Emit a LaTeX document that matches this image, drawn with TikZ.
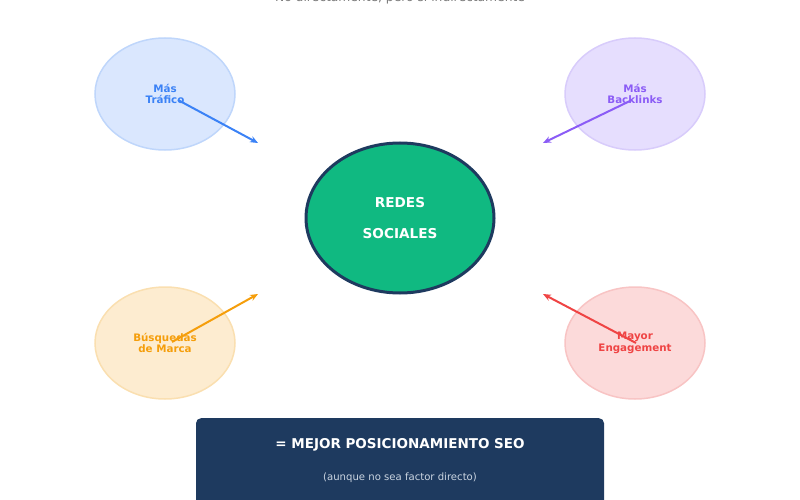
\documentclass[tikz,border=0pt]{standalone}
\usepackage{fontspec}
\setmainfont{DejaVu Sans}
\usetikzlibrary{arrows.meta,shapes.geometric}
\definecolor{navy}{HTML}{1E3A5F}
\definecolor{green}{HTML}{10B981}
\definecolor{bluefill}{HTML}{DAE7FE}
\definecolor{bluedraw}{HTML}{BFD6FB}
\definecolor{bluetext}{HTML}{3B82F6}
\definecolor{purfill}{HTML}{E6DEFE}
\definecolor{purdraw}{HTML}{D8CCFB}
\definecolor{purtext}{HTML}{8B5CF6}
\definecolor{orfill}{HTML}{FDECD0}
\definecolor{ordraw}{HTML}{FADFB0}
\definecolor{ortext}{HTML}{F59E0B}
\definecolor{redfill}{HTML}{FCDADA}
\definecolor{reddraw}{HTML}{F8C4C4}
\definecolor{redtext}{HTML}{EF4444}
\definecolor{subgray}{HTML}{7A7A7A}
\definecolor{lightgray}{HTML}{CBD5E1}
\tikzset{
  sat/.style={ellipse, minimum width=140pt, minimum height=112pt, line width=1.5pt, inner sep=0pt, align=center, font=\fontsize{10.3}{11.5}\selectfont\bfseries},
  arr/.style={line width=2pt, -{Stealth[length=8pt,width=6.5pt]}},
}
\begin{document}
\begin{tikzpicture}[x=1pt,y=-1pt]
\useasboundingbox (0,0) rectangle (800,500);
\node[text=subgray, font=\fontsize{12.3}{14}\selectfont, anchor=base] (top) at (400,1.5) {No directamente, pero sí indirectamente};
% central
\node[ellipse, minimum width=188pt, minimum height=150pt, fill=green, draw=navy, line width=3pt] (center) at (400,218) {};
\node[text=white, font=\fontsize{13.6}{15}\selectfont\bfseries] (t1) at (400,203) {REDES};
\node[text=white, font=\fontsize{13.6}{15}\selectfont\bfseries] (t2) at (400,234) {SOCIALES};
% satellites
\node[sat, fill=bluefill, draw=bluedraw, text=bluetext] (traf) at (165,94) {Más\\Tráfico};
\node[sat, fill=purfill, draw=purdraw, text=purtext] (back) at (635,94) {Más\\Backlinks};
\node[sat, fill=orfill, draw=ordraw, text=ortext] (busq) at (165,343) {Búsquedas\\de Marca};
\node[sat, fill=redfill, draw=reddraw, text=redtext] (eng) at (635,343) {Mayor\\Engagement};
% arrow ends
\coordinate (e1) at (258,143);
\coordinate (e2) at (543,143);
\coordinate (e3) at (258,294);
\coordinate (e4) at (543,294);
\draw[arr, bluetext] ([shift={(13,6)}]traf.center) -- (e1);
\draw[arr, purtext] ([shift={(-3,6)}]back.center) -- (e2);
\draw[arr, ortext] ([shift={(7,-1)}]busq.center) -- (e3);
\draw[arr, redtext] ([shift={(1,0)}]eng.center) -- (e4);
% bottom box
\node[fill=navy, rounded corners=5pt, minimum width=408pt, minimum height=100pt, anchor=north, inner sep=0pt] (box) at (400,418) {};
\node[text=white, font=\fontsize{13.5}{15}\selectfont\bfseries] (b1) at (400,445) {= MEJOR POSICIONAMIENTO SEO};
\node[text=lightgray, font=\fontsize{10.1}{12}\selectfont] (b2) at (400,478) {(aunque no sea factor directo)};
\end{tikzpicture}
\end{document}
